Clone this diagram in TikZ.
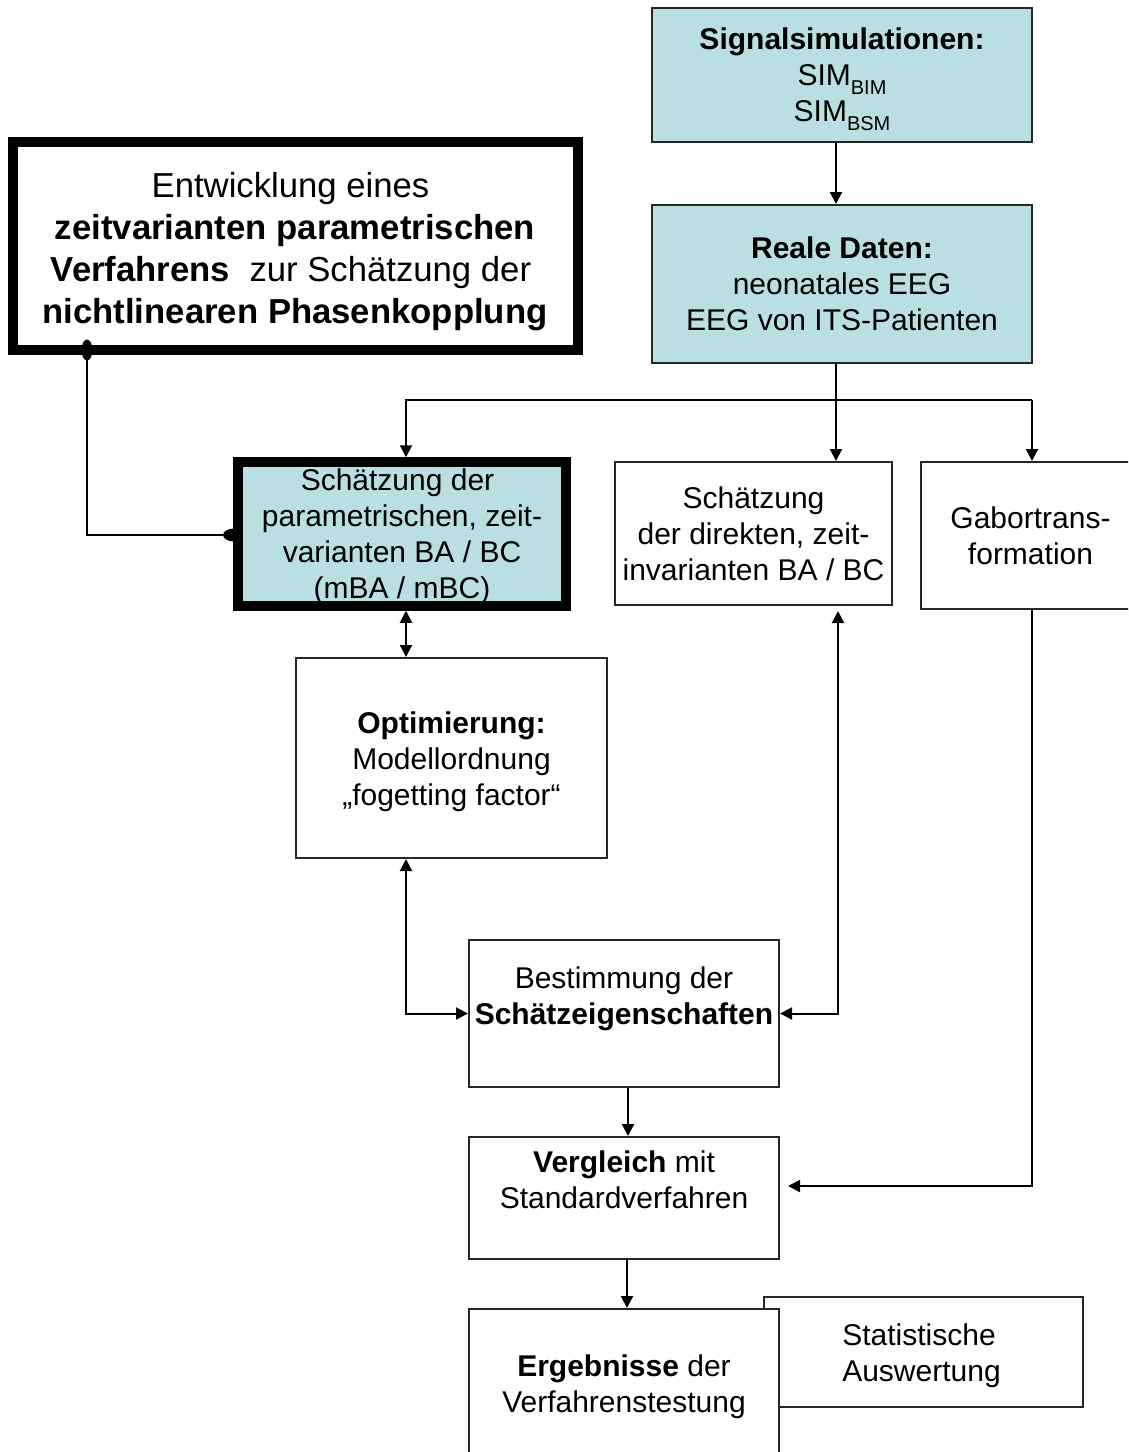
\documentclass[tikz,border=0pt]{standalone}
\usepackage{fontspec}
\setmainfont{Liberation Sans}
\usetikzlibrary{arrows.meta,shapes.geometric}
\definecolor{lb}{RGB}{185,223,227}
\begin{document}
\begin{tikzpicture}[x=1pt,y=-1pt,
  box/.style={draw=black!85, line width=2pt, fill=white, inner sep=0pt, align=center,
    font=\fontsize{30}{36}\selectfont},
  fatbox/.style={draw=black, line width=10pt, inner sep=0pt, align=center},
  txt/.style={inner sep=0pt, align=center, font=\fontsize{30}{36}\selectfont},
  arr/.style={-{Triangle[width=12pt,length=12pt]}, line width=2pt},
  darr/.style={{Triangle[width=12pt,length=12pt]}-{Triangle[width=12pt,length=12pt]}, line width=2pt},
  con/.style={line width=2pt},
  dot/.style={ellipse, fill=black, draw=none, inner sep=0pt}
]
\useasboundingbox (0,0) rectangle (1128,1452);
\clip (0,0) rectangle (1128,1452);
\fill[white] (0,0) rectangle (1128,1452);

% boxes
\node[box, fill=lb, minimum width=380pt, minimum height=134pt] (sig) at (842,75) {};
\node[txt] (sigt) at ([yshift=-4pt]sig.center)
  {\textbf{Signalsimulationen:}\\SIM\raisebox{-0.3em}{\fontsize{20}{20}\selectfont BIM}\\SIM\raisebox{-0.3em}{\fontsize{20}{20}\selectfont BSM}};
\node[box, fill=lb, minimum width=380pt, minimum height=158pt] (real) at (842,284)
  {\textbf{Reale Daten:}\\neonatales EEG\\EEG von ITS-Patienten};
\node[fatbox, minimum width=565pt, minimum height=208pt] (big) at (295.5,246) {};
\node[txt, font=\fontsize{34.7}{42}\selectfont] (bigt) at ([xshift=-0.5pt,yshift=-6pt]big.center)
  {Entwicklung eines\makebox[9pt]{}\\\textbf{zeitvarianten parametrischen}\\\textbf{Verfahrens}~ zur Schätzung der\makebox[8pt]{}\\\textbf{nichtlinearen Phasenkopplung}};

\node[dot, minimum width=11pt, minimum height=21pt] (d1) at (87,350) {};
\node[dot, minimum width=22pt, minimum height=13pt] (d2) at (234,535) {};
\draw[con] (d1.center) -- (d1.center |- d2.center) -- (d2.center);

\node[fatbox, fill=lb, minimum width=328pt, minimum height=143.5pt] (param) at (402,534) {};
\node[txt] (paramt) at ([yshift=-3pt]param.center)
  {Schätzung der\makebox[9pt]{}\\parametrischen, zeit-\\varianten BA / BC\\(mBA / mBC)};
\node[box, minimum width=277pt, minimum height=143pt] (dir) at (753.5,533.5)
  {Schätzung\\der direkten, zeit-\\invarianten BA / BC};
\node[box, minimum width=219pt, minimum height=147pt] (gab) at (1030.5,535.5)
  {Gabortrans-\\formation};
\node[box, minimum width=311pt, minimum height=200pt] (opt) at (451.5,758) {};
\node[txt] (optt) at ([yshift=-4pt]opt.center)
  {\textbf{Optimierung:}\\Modellordnung\\„fogetting factor“};
\node[box, minimum width=310pt, minimum height=147pt] (best) at (624,1013.5)
  {Bestimmung der\\\textbf{Schätzeigenschaften}\\\mbox{}};
\node[box, minimum width=310pt, minimum height=122pt] (verg) at (624,1198)
  {\textbf{Vergleich} mit\\Standardverfahren\\\mbox{}};
\node[box, minimum width=319pt, minimum height=110pt] (stat) at (923.5,1352) {};
\node[txt, align=left] (statt) at ([xshift=-2pt,yshift=-4pt]stat.center)
  {Statistische\\Auswertung};
\node[box, minimum width=310pt, minimum height=156pt] (erg) at (624,1387)
  {\textbf{Ergebnisse} der\\Verfahrenstestung};

% connectors
\coordinate (hl) at (406,400);
\coordinate (hr) at (1032,400);
\draw[arr] ([xshift=-6pt]sig.south) -- ([xshift=-6pt]real.north);
\draw[arr] ([xshift=-6pt]real.south) -- ([xshift=-6pt]real.south |- dir.north);
\draw[arr] (hr) -- (hl) -- (hl |- param.north);
\draw[arr] (hr) -- (hr |- gab.north);
\draw[darr] (hl |- param.south) -- (hl |- opt.north);
\draw[darr] (hl |- opt.south) -- (hl |- best.west) -- (best.west);
\draw[darr] ([xshift=84.5pt,yshift=-5pt]dir.south) |- (best.east);
\draw[arr] ([xshift=4pt]best.south) -- ([xshift=4pt]verg.north);
\draw[arr] (hr |- gab.south) |- ([xshift=8pt,yshift=12pt]verg.east);
\draw[arr] ([xshift=3pt]verg.south) -- ([xshift=3pt]erg.north);
\end{tikzpicture}
\end{document}
